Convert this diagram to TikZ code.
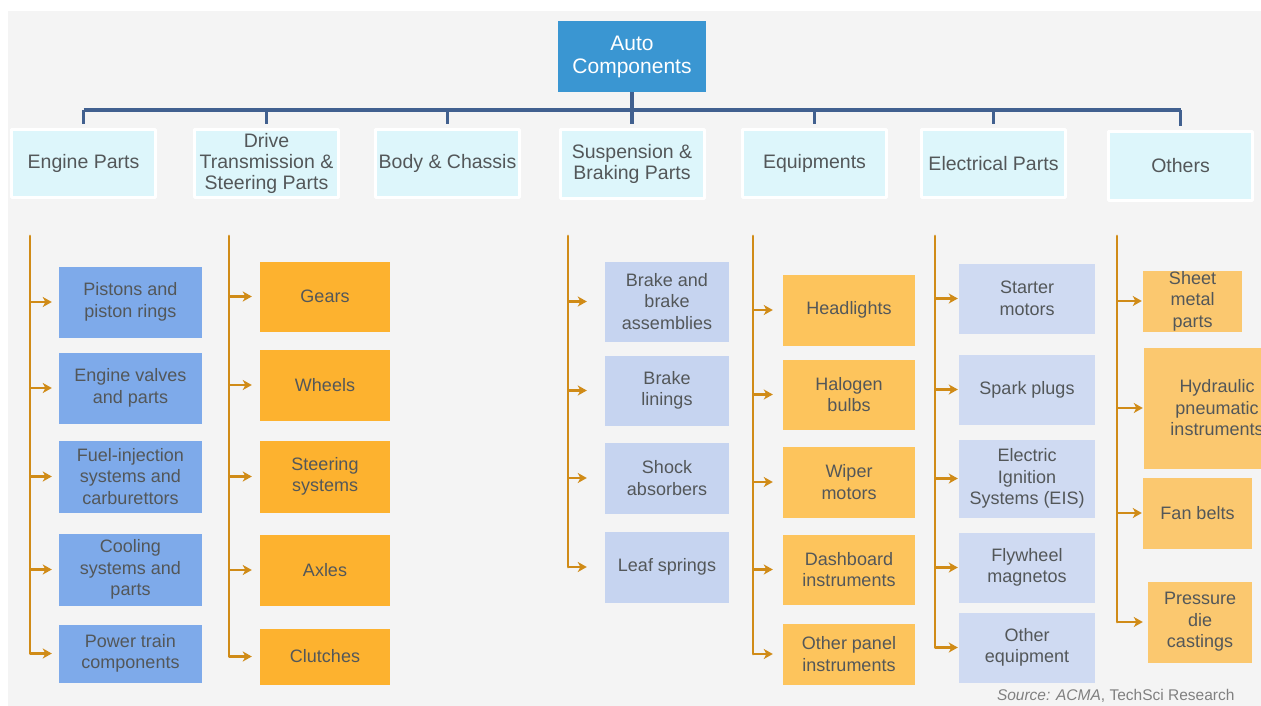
\documentclass[tikz,border=0pt]{standalone}
\usepackage{fontspec}
\setmainfont{Liberation Sans}
\usetikzlibrary{arrows.meta}
\usetikzlibrary{positioning}
\definecolor{bggray}{HTML}{F4F4F4}
\definecolor{rootblue}{HTML}{3A96D2}
\definecolor{linkblue}{HTML}{41608F}
\definecolor{catcyan}{HTML}{DDF6FB}
\definecolor{cornblue}{HTML}{7EAAEA}
\definecolor{deeporange}{HTML}{FDB22F}
\definecolor{lilac}{HTML}{C6D4F0}
\definecolor{softorange}{HTML}{FDC45C}
\definecolor{paleorange}{HTML}{FBC86F}
\definecolor{trunkgold}{HTML}{D08B17}
\definecolor{txtgray}{HTML}{535759}

\begin{document}
\begin{tikzpicture}[line cap=round,line join=round, x=1pt, y=-1pt,
  cat/.style={draw=white, line width=3pt, fill=catcyan, text=txtgray, minimum width=144pt, minimum height=68pt, inner sep=0pt, align=center, font=\fontsize{19.5}{21}\selectfont},
  part/.style={text=txtgray, inner sep=0pt, align=center, font=\fontsize{18}{21.5}\selectfont},
  link/.style={line width=3.2pt, draw=linkblue, line cap=butt},
  trunk/.style={line width=2.8pt, draw=trunkgold},
  branch/.style={line width=2.8pt, draw=trunkgold, line cap=butt, -{Stealth[length=9pt, width=10pt, inset=2.5pt]}, shorten >=#1},
  branch/.default=1pt]
\useasboundingbox (0,0) rectangle (1261,706);
\clip (0,0) rectangle (1261,706);
\fill[white] (0,0) rectangle (1261,706);
\fill[bggray] (8,11) rectangle (1261,706);

% top of the tree
\node[fill=rootblue, text=white, minimum width=148pt, minimum height=71pt, align=center, font=\fontsize{21}{23}\selectfont] (root) at (632,56.5) {Auto\\Components};
\node[cat] (engine) at (83.5,163.5) {Engine Parts};
\node[cat] (drive) at (266.5,163.5) {Drive\\Transmission \&\\Steering Parts};
\node[cat] (body) at (447.5,163.5) {Body \& Chassis};
\node[cat] (susp) at (632,164) {Suspension \&\\Braking Parts};
\node[cat] (equip) at (814.5,163.5) {Equipments};
\node[cat] (elec) at (993.5,163.5) {Electrical Parts};
\node[cat] (others) at (1180.5,166) {Others};

\coordinate (bus) at (632,110);
\draw[link] (root.south) -- (bus);
\draw[link] (engine.north |- bus) -- (others.north |- bus);
\draw[link, shorten >=4pt] (engine.north |- bus) -- (engine.north);
\draw[link, shorten >=4pt] (drive.north |- bus) -- (drive.north);
\draw[link, shorten >=4pt] (body.north |- bus) -- (body.north);
\draw[link, shorten >=4pt] (bus) -- (susp.north);
\draw[link, shorten >=4pt] (equip.north |- bus) -- (equip.north);
\draw[link, shorten >=4pt] (elec.north |- bus) -- (elec.north);
\draw[link, shorten >=4pt] (others.north |- bus) -- (others.north);

% engine parts
\node[part, fill=cornblue, minimum width=143pt, minimum height=71pt] (pistons) at (130.5,302) {Pistons and\\piston rings};
\node[part, fill=cornblue, minimum width=143pt, minimum height=71pt] (valves) at (130.5,388) {Engine valves\\and parts};
\node[part, fill=cornblue, minimum width=143pt, minimum height=72pt] (fuel) at (130.5,476.5) {Fuel-injection\\systems and\\carburettors};
\node[part, fill=cornblue, minimum width=143pt, minimum height=72pt] (cooling) at (130.5,569.5) {Cooling\\systems and\\parts};
\node[part, fill=cornblue, minimum width=143pt, minimum height=58pt] (powertrain) at (130.5,653.5) {Power train\\components};
\coordinate (engtrunk) at (30,236);
\draw[trunk] (engtrunk) -- (engtrunk |- powertrain.west);
\draw[branch=7pt] (engtrunk |- pistons.west) -- (pistons.west);
\draw[branch=7pt] (engtrunk |- valves.west) -- (valves.west);
\draw[branch=7pt] (engtrunk |- fuel.west) -- (fuel.west);
\draw[branch=7pt] (engtrunk |- cooling.west) -- (cooling.west);
\draw[branch=7pt] (engtrunk |- powertrain.west) -- (powertrain.west);

% drive transmission and steering
\node[part, fill=deeporange, minimum width=130pt, minimum height=70pt] (gears) at (325,296.5) {Gears};
\node[part, fill=deeporange, minimum width=130pt, minimum height=71pt] (wheels) at (325,385) {Wheels};
\node[part, fill=deeporange, minimum width=130pt, minimum height=72pt] (steering) at (325,476.5) {Steering\\systems};
\node[part, fill=deeporange, minimum width=130pt, minimum height=71pt] (axles) at (325,570) {Axles};
\node[part, fill=deeporange, minimum width=130pt, minimum height=56pt] (clutches) at (325,656.5) {Clutches};
\coordinate (drvtrunk) at (229,236);
\draw[trunk] (drvtrunk) -- (drvtrunk |- clutches.west);
\draw[branch=8pt] (drvtrunk |- gears.west) -- (gears.west);
\draw[branch=8pt] (drvtrunk |- wheels.west) -- (wheels.west);
\draw[branch=8pt] (drvtrunk |- steering.west) -- (steering.west);
\draw[branch=8pt] (drvtrunk |- axles.west) -- (axles.west);
\draw[branch=8pt] (drvtrunk |- clutches.west) -- (clutches.west);

% suspension and braking
\node[part, fill=lilac, minimum width=124pt, minimum height=80pt] (brakes) at (667,301.5) {Brake and\\brake\\assemblies};
\node[part, fill=lilac, minimum width=124pt, minimum height=70pt] (linings) at (667,390.5) {Brake\\linings};
\node[part, fill=lilac, minimum width=124pt, minimum height=71pt] (shocks) at (667,478) {Shock\\absorbers};
\node[part, fill=lilac, minimum width=124pt, minimum height=71pt] (leaf) at (667,567) {Leaf springs};
\coordinate (sustrunk) at (568,236);
\draw[trunk] (sustrunk) -- (sustrunk |- leaf.west);
\draw[branch=18pt] (sustrunk |- brakes.west) -- (brakes.west);
\draw[branch=18pt] (sustrunk |- linings.west) -- (linings.west);
\draw[branch=18pt] (sustrunk |- shocks.west) -- (shocks.west);
\draw[branch=18pt] (sustrunk |- leaf.west) -- (leaf.west);

% equipments
\node[part, fill=softorange, minimum width=132pt, minimum height=71pt] (headlights) at (849,310) {Headlights};
\node[part, fill=softorange, minimum width=132pt, minimum height=70pt] (halogen) at (849,394.5) {Halogen\\bulbs};
\node[part, fill=softorange, minimum width=132pt, minimum height=71pt] (wiper) at (849,482) {Wiper\\motors};
\node[part, fill=softorange, minimum width=132pt, minimum height=70pt] (dashboard) at (849,569.5) {Dashboard\\instruments};
\node[part, fill=softorange, minimum width=132pt, minimum height=61pt] (panel) at (849,654) {Other panel\\instruments};
\coordinate (eqtrunk) at (753,236);
\draw[trunk] (eqtrunk) -- (eqtrunk |- panel.west);
\draw[branch=10pt] (eqtrunk |- headlights.west) -- (headlights.west);
\draw[branch=10pt] (eqtrunk |- halogen.west) -- (halogen.west);
\draw[branch=10pt] (eqtrunk |- wiper.west) -- (wiper.west);
\draw[branch=10pt] (eqtrunk |- dashboard.west) -- (dashboard.west);
\draw[branch=10pt] (eqtrunk |- panel.west) -- (panel.west);

% electrical parts
\node[part, fill=lilac!85!white, minimum width=136pt, minimum height=70pt] (starter) at (1027,298.5) {Starter\\motors};
\node[part, fill=lilac!85!white, minimum width=136pt, minimum height=70pt] (spark) at (1027,389.5) {Spark plugs};
\node[part, fill=lilac!85!white, minimum width=136pt, minimum height=78pt] (ignition) at (1027,478.5) {Electric\\Ignition\\Systems (EIS)};
\node[part, fill=lilac!85!white, minimum width=136pt, minimum height=70pt] (flywheel) at (1027,567.5) {Flywheel\\magnetos};
\node[part, fill=lilac!85!white, minimum width=136pt, minimum height=70pt] (otherequip) at (1027,647.5) {Other\\equipment};
\coordinate (eltrunk) at (935,236);
\draw[trunk] (eltrunk) -- (eltrunk |- otherequip.west);
\draw[branch] (eltrunk |- starter.west) -- (starter.west);
\draw[branch] (eltrunk |- spark.west) -- (spark.west);
\draw[branch] (eltrunk |- ignition.west) -- (ignition.west);
\draw[branch] (eltrunk |- flywheel.west) -- (flywheel.west);
\draw[branch] (eltrunk |- otherequip.west) -- (otherequip.west);

% others
\node[part, fill=paleorange, minimum width=99pt, minimum height=61pt] (sheet) at (1192.5,301) {Sheet\\metal\\parts};
\node[part, fill=paleorange, minimum width=146pt, minimum height=121pt] (hydraulic) at (1217,408) {Hydraulic\\pneumatic\\instruments};
\node[part, fill=paleorange, minimum width=109pt, minimum height=71pt] (fanbelts) at (1197.5,513) {Fan belts};
\node[part, fill=paleorange, minimum width=104pt, minimum height=81pt] (diecast) at (1200,622) {Pressure\\die\\castings};
\coordinate (othtrunk) at (1117,236);
\draw[trunk] (othtrunk) -- (othtrunk |- diecast.west);
\draw[branch] (othtrunk |- sheet.west) -- (sheet.west);
\draw[branch] (othtrunk |- hydraulic.west) -- (hydraulic.west);
\draw[branch] (othtrunk |- fanbelts.west) -- (fanbelts.west);
\draw[branch=5pt] (othtrunk |- diecast.west) -- (diecast.west);

\node[text=gray, anchor=east, font=\fontsize{15.5}{17}\selectfont] (source) at (1238,696) {\textit{Source: ACMA},~TechSci Research};
\end{tikzpicture}
\end{document}
